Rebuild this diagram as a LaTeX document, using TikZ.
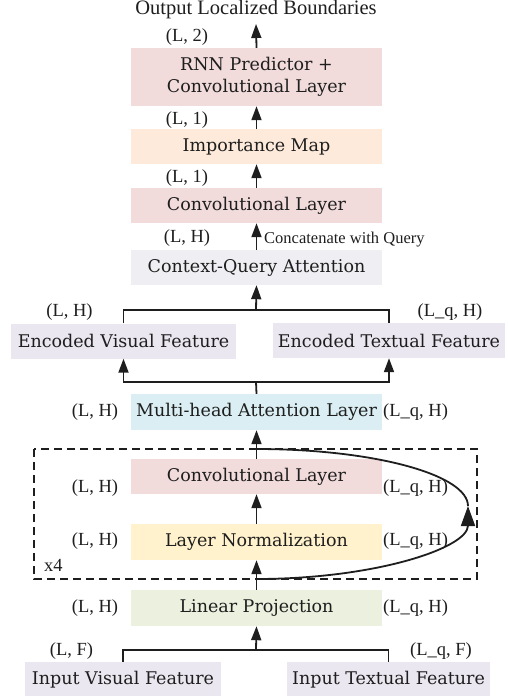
\documentclass[tikz,border=0pt]{standalone}
\usepackage{fontspec}
\setmainfont{Liberation Serif}
\newfontfamily\boxfont{DejaVu Serif}
\usetikzlibrary{arrows.meta}
\definecolor{cpink}{HTML}{F2DCDB}
\definecolor{corange}{HTML}{FDEADA}
\definecolor{cgrey}{HTML}{EFEFF3}
\definecolor{clav}{HTML}{EAE7F0}
\definecolor{ccyan}{HTML}{DAEEF3}
\definecolor{cyellow}{HTML}{FFF2CC}
\definecolor{cgreen}{HTML}{EBF1DE}
\definecolor{ctext}{HTML}{1E1E1E}
\tikzset{
  blk/.style={inner sep=0pt, minimum height=35pt, text=ctext, align=center,
    font=\boxfont\fontsize{17.5}{22}\selectfont},
  dimlbl/.style={inner sep=0pt, text=ctext, font=\fontsize{18.5}{20}\selectfont},
  arr/.style={line width=1.8pt, draw=ctext, -{Triangle[length=14pt,width=10pt]}},
  ln/.style={line width=1.8pt, draw=ctext},
}
\begin{document}
\begin{tikzpicture}[x=1pt,y=-1pt]
\useasboundingbox (0,0) rectangle (507,696);
% boxes
\node[blk, fill=cpink, minimum width=251pt, minimum height=58pt] (rnn) at (256.5,77) {RNN Predictor +\\Convolutional Layer};
\node[blk, fill=corange, minimum width=251pt] (imp) at (256.5,146.5) {Importance Map};
\node[blk, fill=cpink, minimum width=251pt] (conva) at (256.5,205.5) {Convolutional Layer};
\node[blk, fill=cgrey, minimum width=251pt] (cqa) at (256.5,267.5) {Context-Query Attention};
\node[blk, fill=clav, minimum width=225pt] (encv) at (123.5,341) {Encoded Visual Feature};
\node[blk, fill=clav, minimum width=232pt] (enct) at (389,340.5) {Encoded Textual Feature};
\node[blk, fill=ccyan, minimum width=251pt, minimum height=36pt] (mha) at (256.5,412) {Multi-head Attention Layer};
\node[blk, fill=cpink, minimum width=251pt] (convb) at (256.5,476.5) {Convolutional Layer};
\node[blk, fill=cyellow, minimum width=251pt, minimum height=36pt] (lnorm) at (256.5,542) {Layer Normalization};
\node[blk, fill=cgreen, minimum width=251pt, minimum height=36pt] (lin) at (256.5,608) {Linear Projection};
\node[blk, fill=clav, minimum width=196pt, minimum height=36pt] (inv) at (123,680) {Input Visual Feature};
\node[blk, fill=clav, minimum width=203pt, minimum height=36pt] (int) at (388.5,680) {Input Textual Feature};
% title
\node[inner sep=0pt, text=ctext, font=\fontsize{20.5}{22}\selectfont] (title) at (256,10) {Output Localized Boundaries};
\coordinate (tip) at (256,24);
% dashed repeat box
\draw[line width=1.2pt, draw=ctext, dash pattern=on 8pt off 5pt] (34,449) rectangle (477,579);
\node[dimlbl, anchor=west] (x4) at (44,565) {x4};
% connectors
\draw[arr] (rnn.north) -- (tip);
\draw[arr] (imp.north) -- (rnn.south);
\draw[arr] (conva.north) -- (imp.south);
\draw[arr] (cqa.north) -- (conva.south);
\coordinate (jtop) at (256,310);
\draw[ln] (encv.north) |- (jtop) -| (enct.north);
\draw[arr] (jtop) -- (cqa.south);
\coordinate (jmid) at (256,382);
\draw[ln] (mha.north) -- (jmid);
\draw[arr] (jmid) -| (encv.south);
\draw[arr] (jmid) -| (enct.south);
\draw[arr] (convb.north) -- (mha.south);
\draw[arr] (lnorm.north) -- (convb.south);
\draw[arr] (lin.north) -- (lnorm.south);
\coordinate (jbot) at (256,650);
\draw[ln] (inv.north) |- (jbot) -| (int.north);
\draw[arr] (jbot) -- (lin.south);
% residual loop
\coordinate (r0) at (256,579);
\coordinate (r1) at (468,506);
\coordinate (r2) at (256,449);
\draw[line width=1.8pt, draw=ctext, -{Triangle[length=20pt,width=14pt]}] (r0) .. controls (375,579) and (468,548) .. (r1);
\draw[ln] (r1) .. controls (468,475) and (375,449) .. (r2);
% dimension labels
\node[dimlbl] (d1) at (187,37) {(L, 2)};
\node[dimlbl] (d2) at (187,120) {(L, 1)};
\node[dimlbl] (d3) at (187,178) {(L, 1)};
\node[dimlbl] (d4) at (187,238) {(L, H)};
\node[inner sep=0pt, anchor=west, text=ctext, font=\fontsize{16.5}{18}\selectfont] (cq) at (264,240) {Concatenate with Query};
\node[dimlbl] (d5) at (69.5,312) {(L, H)};
\node[dimlbl] (d6) at (450,312) {(L\_q, H)};
\node[dimlbl] (d7) at (95,412) {(L, H)};
\node[dimlbl, anchor=west] (d8) at (383,412) {(L\_q, H)};
\node[dimlbl] (d9) at (95,488) {(L, H)};
\node[dimlbl, anchor=west] (d10) at (383,488) {(L\_q, H)};
\node[dimlbl] (d11) at (95,541) {(L, H)};
\node[dimlbl, anchor=west] (d12) at (383,541) {(L\_q, H)};
\node[dimlbl] (d13) at (95,608) {(L, H)};
\node[dimlbl, anchor=west] (d14) at (383,608) {(L\_q, H)};
\node[dimlbl] (d15) at (71.5,651) {(L, F)};
\node[dimlbl] (d16) at (441,651) {(L\_q, F)};
\end{tikzpicture}
\end{document}
